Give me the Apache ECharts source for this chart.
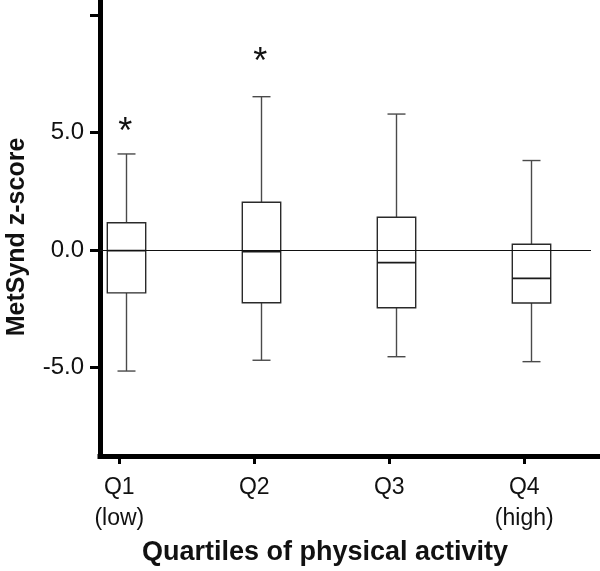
<!DOCTYPE html>
<html>
<head>
<meta charset="utf-8">
<script src="https://cdn.jsdelivr.net/npm/echarts@6/dist/echarts.min.js"></script>
<style>
html,body{margin:0;padding:0;background:#fff;}
#chart{width:600px;height:571px;}
</style>
</head>
<body>
<div id="chart"></div>
<script>
// ---- data ----
const categories = ['Q1\n(low)', 'Q2', 'Q3', 'Q4\n(high)'];
const positions = [1, 2, 3, 4];
const whiskerLow = [-5.16, -4.70, -4.55, -4.76];
const quartile1 = [-1.83, -2.25, -2.46, -2.26];
const median = [-0.03, -0.07, -0.54, -1.21];
const quartile3 = [1.16, 2.03, 1.39, 0.24];
const whiskerHigh = [4.09, 6.53, 5.79, 3.81];
const significance = ['*', '*', '', ''];
const markerValue = [5.33, 8.31, null, null];
const yTickValues = [-5, 0, 5, 10];
const yLabelValues = [-5, 0, 5];
const referenceValue = 0;

const FONT = '"Liberation Sans", Arial, Helvetica, sans-serif';

const boxData = positions.map((p, i) => [p, whiskerLow[i], quartile1[i], median[i], quartile3[i], whiskerHigh[i]]);
const markerData = positions
  .map((p, i) => [p, markerValue[i], significance[i]])
  .filter(d => d[1] !== null && d[2] !== '');

const chart = echarts.init(document.getElementById('chart'), null, {renderer: 'canvas'});

function renderBox(params, api) {
  const shift = 6.7, halfBox = 19.2, halfCap = 9;
  const x = api.value(0);
  const pLow = api.coord([x, api.value(1)]);
  const pQ1 = api.coord([x, api.value(2)]);
  const pMed = api.coord([x, api.value(3)]);
  const pQ3 = api.coord([x, api.value(4)]);
  const pHigh = api.coord([x, api.value(5)]);
  const cx = Math.round(pLow[0] + shift) + 0.5;
  const whisk = {stroke: '#4a4a4a', lineWidth: 1.4};
  const boxS = {stroke: '#2a2a2a', lineWidth: 1.4, fill: '#fff'};
  return {
    type: 'group',
    children: [
      {type: 'line', shape: {x1: cx, y1: pQ3[1], x2: cx, y2: pHigh[1]}, style: whisk},
      {type: 'line', shape: {x1: cx - halfCap, y1: pHigh[1], x2: cx + halfCap, y2: pHigh[1]}, style: whisk},
      {type: 'line', shape: {x1: cx, y1: pQ1[1], x2: cx, y2: pLow[1]}, style: whisk},
      {type: 'line', shape: {x1: cx - halfCap, y1: pLow[1], x2: cx + halfCap, y2: pLow[1]}, style: whisk},
      {type: 'rect', shape: {x: cx - halfBox, y: pQ3[1], width: 2 * halfBox, height: pQ1[1] - pQ3[1]}, style: boxS},
      {type: 'line', shape: {x1: cx - halfBox, y1: pMed[1], x2: cx + halfBox, y2: pMed[1]}, style: {stroke: '#1a1a1a', lineWidth: 1.6}}
    ]
  };
}

function renderRef(params, api) {
  const p = api.coord([api.value(0), api.value(1)]);
  const cs = params.coordSys;
  const y = Math.round(p[1]) + 0.5;
  return {
    type: 'line',
    z2: 10,
    shape: {x1: cs.x, y1: y, x2: cs.x + cs.width - 9, y2: y},
    style: {stroke: '#111', lineWidth: 1}
  };
}

function renderMarker(params, api) {
  const p = api.coord([api.value(0), api.value(1)]);
  return {
    type: 'text',
    style: {
      text: markerData[params.dataIndex][2],
      x: p[0] + 6, y: p[1] + 8.5,
      align: 'center', verticalAlign: 'middle',
      fontSize: 36, fontFamily: FONT, fontWeight: 'normal', fill: '#111'
    }
  };
}

const option = {
  backgroundColor: '#fff',
  animation: false,
  grid: {left: 100, right: 0, top: 0, bottom: 115, containLabel: false, outerBoundsMode: 'none'},
  xAxis: {
    type: 'value',
    min: 0.857,
    max: 4.561,
    splitLine: {show: false},
    axisLine: {show: true, onZero: false, lineStyle: {color: '#000', width: 5, cap: 'square'}},
    axisTick: {show: true, customValues: positions, length: 8, lineStyle: {color: '#000', width: 3}},
    axisLabel: {
      customValues: positions,
      formatter: v => categories[positions.indexOf(Math.round(v))] || '',
      margin: 16, fontSize: 23, lineHeight: 31, color: '#111', fontFamily: FONT
    },
    name: 'Quartiles of physical activity',
    nameLocation: 'middle',
    nameGap: 83,
    nameTextStyle: {fontSize: 27, fontWeight: 'bold', color: '#111', fontFamily: FONT, padding: [0, 50, 0, 0]}
  },
  yAxis: {
    type: 'value',
    min: -8.78,
    max: 10.65,
    splitLine: {show: false},
    axisLine: {show: true, lineStyle: {color: '#000', width: 5, cap: 'square'}},
    axisTick: {show: true, customValues: yTickValues, length: 10, lineStyle: {color: '#000', width: 3}},
    axisLabel: {
      customValues: yLabelValues,
      formatter: v => v.toFixed(1),
      margin: 16, fontSize: 24, color: '#111', fontFamily: FONT
    },
    name: 'MetSynd z-score',
    nameLocation: 'middle',
    nameGap: 70,
    nameTextStyle: {fontSize: 25, fontWeight: 'bold', color: '#111', fontFamily: FONT, padding: [0, 18, 0, 0]}
  },
  series: [
    {type: 'custom', renderItem: renderBox, data: boxData, encode: {x: 0, y: [1, 2, 3, 4, 5]}, clip: false, z: 2},
    {type: 'custom', renderItem: renderRef, data: [[positions[0], referenceValue]], encode: {x: 0, y: 1}, z: 3},
    {type: 'custom', renderItem: renderMarker, data: markerData.map(d => [d[0], d[1]]), encode: {x: 0, y: 1}, z: 4}
  ]
};
chart.setOption(option);
</script>
</body>
</html>
